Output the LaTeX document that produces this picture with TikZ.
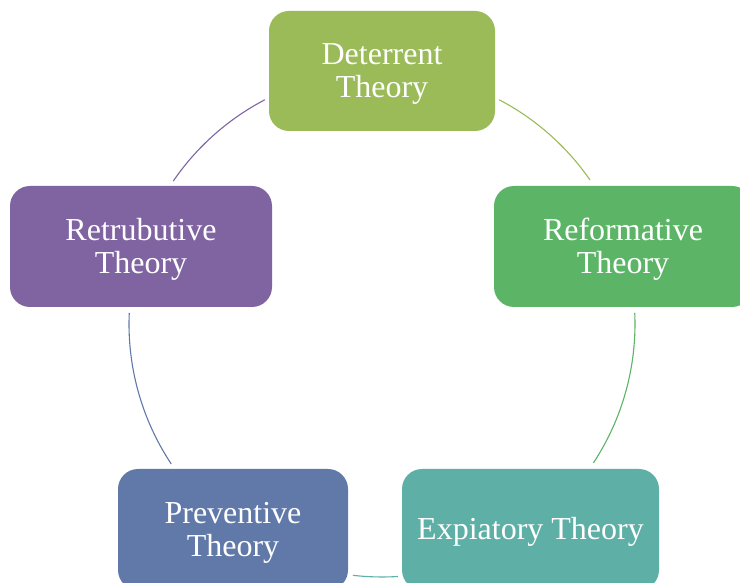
\documentclass[tikz,border=0pt]{standalone}
\usepackage{fontspec}
\setmainfont{Liberation Serif}
\usetikzlibrary{calc}
\definecolor{cDet}{HTML}{9BBB59}
\definecolor{cRef}{HTML}{5CB567}
\definecolor{cExp}{HTML}{5EAFA6}
\definecolor{cPre}{HTML}{6079A9}
\definecolor{cRet}{HTML}{8064A2}
\tikzset{
  theory/.style={rounded corners=20pt, inner sep=0pt, minimum height=121pt},
  label/.style={inner sep=0pt, align=center, text=white,
    font=\fontsize{32}{33}\selectfont},
  link/.style={line width=1.1pt},
}
\begin{document}
\begin{tikzpicture}[x=1pt,y=1pt]
\clip (0,0) rectangle (740,582);
\fill[white] (0,0) rectangle (740,582);
\coordinate (c) at (382,258);
\node[theory, fill=cDet, minimum width=226pt, minimum height=120pt] (det) at (382,511) {};
\node[theory, fill=cRef, minimum width=258pt] (ref) at (623,335.5) {};
\node[theory, fill=cExp, minimum width=257pt] (exp) at (530.5,52.5) {};
\node[theory, fill=cPre, minimum width=230pt] (pre) at (233,52.5) {};
\node[theory, fill=cRet, minimum width=262pt] (ret) at (141,335.5) {};
\node[label] (detT) at ([yshift=-3pt]det.center) {Deterrent\\Theory};
\node[label] (refT) at ([yshift=-3pt]ref.center) {Reformative\\Theory};
\node[label] (expT) at ([yshift=-2pt]exp.center) {Expiatory Theory};
\node[label] (preT) at ([yshift=-3pt]pre.center) {Preventive\\Theory};
\node[label] (retT) at ([yshift=-3pt]ret.center) {Retrubutive\\Theory};
\coordinate (a1) at ($(c)+(62.4:253)$);
\coordinate (a2) at ($(c)+(2.5:253)$);
\coordinate (a3) at ($(c)+(-86.4:253)$);
\coordinate (a4) at ($(c)+(-146.4:253)$);
\coordinate (a5) at ($(c)+(145.6:253)$);
\draw[link, cDet] (a1) arc[start angle=62.4, end angle=34.7, radius=253];
\draw[link, cRef] (a2) arc[start angle=2.5, end angle=-33.3, radius=253];
\draw[link, cExp] (a3) arc[start angle=-86.4, end angle=-96.6, radius=253];
\draw[link, cPre] (a4) arc[start angle=-146.4, end angle=-182.5, radius=253];
\draw[link, cRet] (a5) arc[start angle=145.6, end angle=117.6, radius=253];
\end{tikzpicture}
\end{document}
